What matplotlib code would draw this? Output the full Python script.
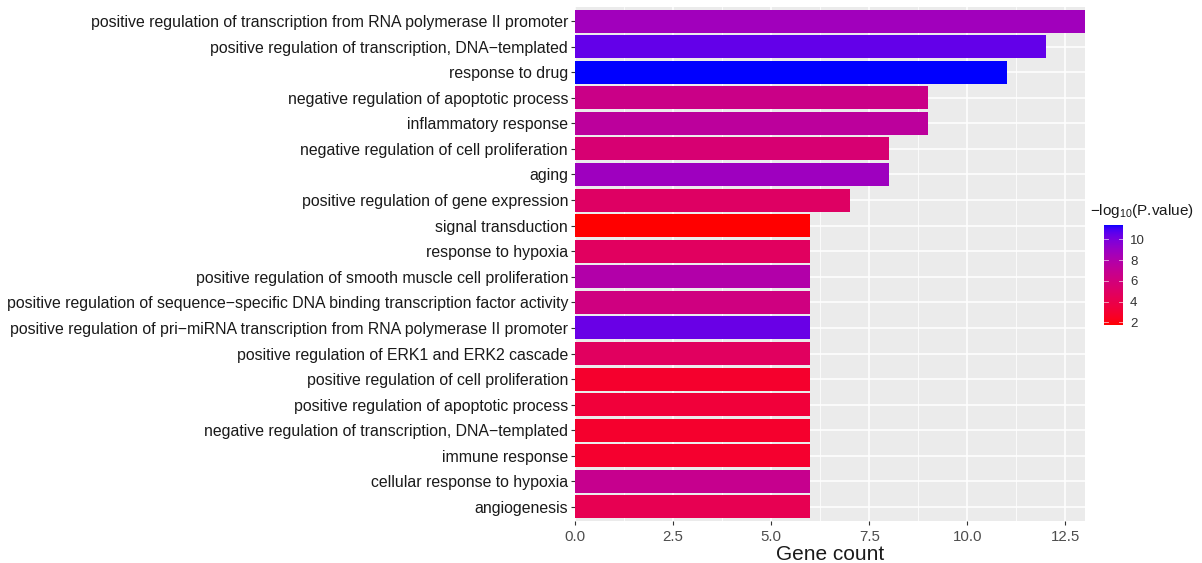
import numpy as np
import matplotlib
matplotlib.use("Agg")
import matplotlib.pyplot as plt
from matplotlib.colors import ListedColormap, Normalize

plt.rcParams['font.family'] = ['Liberation Sans', 'DejaVu Sans']
plt.rcParams['mathtext.default'] = 'regular'

# -----------------------------
# DATA (top to bottom)
# -----------------------------
terms = [
    "positive regulation of transcription from RNA polymerase II promoter",
    "positive regulation of transcription, DNA\u2212templated",
    "response to drug",
    "negative regulation of apoptotic process",
    "inflammatory response",
    "negative regulation of cell proliferation",
    "aging",
    "positive regulation of gene expression",
    "signal transduction",
    "response to hypoxia",
    "positive regulation of smooth muscle cell proliferation",
    "positive regulation of sequence\u2212specific DNA binding transcription factor activity",
    "positive regulation of pri\u2212miRNA transcription from RNA polymerase II promoter",
    "positive regulation of ERK1 and ERK2 cascade",
    "positive regulation of cell proliferation",
    "positive regulation of apoptotic process",
    "negative regulation of transcription, DNA\u2212templated",
    "immune response",
    "cellular response to hypoxia",
    "angiogenesis",
]
counts = [13, 12, 11, 9, 9, 8, 8, 7, 6, 6, 6, 6, 6, 6, 6, 6, 6, 6, 6, 6]
neglogp = [8.7, 10.5, 11.4, 6.5, 7.4, 5.6, 8.8, 5.0, 1.74, 4.8,
           7.9, 6.2, 10.4, 4.8, 2.8, 3.3, 2.8, 2.9, 6.8, 4.3]

# -----------------------------
# RED -> BLUE GRADIENT (Lab interpolation like ggplot)
# -----------------------------
def srgb_to_lab(rgb):
    c = np.where(rgb > 0.04045, ((rgb + 0.055) / 1.055) ** 2.4, rgb / 12.92)
    M = np.array([[0.4124, 0.3576, 0.1805],
                  [0.2126, 0.7152, 0.0722],
                  [0.0193, 0.1192, 0.9505]])
    xyz = M @ c / np.array([0.95047, 1.0, 1.08883])
    f = np.where(xyz > 0.008856, np.cbrt(xyz), 7.787 * xyz + 16 / 116)
    return np.array([116 * f[1] - 16, 500 * (f[0] - f[1]), 200 * (f[1] - f[2])])

def lab_to_srgb(lab):
    fy = (lab[0] + 16) / 116
    fx = fy + lab[1] / 500
    fz = fy - lab[2] / 200
    f = np.array([fx, fy, fz])
    xyz = np.where(f ** 3 > 0.008856, f ** 3, (f - 16 / 116) / 7.787)
    xyz = xyz * np.array([0.95047, 1.0, 1.08883])
    Minv = np.array([[3.2406, -1.5372, -0.4986],
                     [-0.9689, 1.8758, 0.0415],
                     [0.0557, -0.2040, 1.0570]])
    c = Minv @ xyz
    c = np.where(c > 0.0031308, 1.055 * np.clip(c, 0, None) ** (1 / 2.4) - 0.055, 12.92 * c)
    return np.clip(c, 0, 1)

lab_lo = srgb_to_lab(np.array([1.0, 0.0, 0.0]))
lab_hi = srgb_to_lab(np.array([0.0, 0.0, 1.0]))
cmap = ListedColormap([lab_to_srgb(lab_lo + t * (lab_hi - lab_lo)) for t in np.linspace(0, 1, 256)])
norm = Normalize(vmin=min(neglogp), vmax=max(neglogp))

# -----------------------------
# PLOT
# -----------------------------
fig = plt.figure(figsize=(12.02, 5.63), dpi=100)
ax = fig.add_axes([575 / 1202, 1 - 521 / 563, 510 / 1202, 514 / 563])
ax.set_facecolor('#EBEBEB')

y = np.arange(len(terms))[::-1]
ax.barh(y, counts, height=0.9, color=cmap(norm(np.array(neglogp))), zorder=3)

ax.set_xlim(0, 13)
ax.set_ylim(-0.55, len(terms) - 0.45)
ax.set_xticks([0, 2.5, 5, 7.5, 10, 12.5])
ax.set_xticklabels(['0.0', '2.5', '5.0', '7.5', '10.0', '12.5'])
ax.set_xticks(np.arange(1.25, 13, 2.5), minor=True)
ax.set_yticks(y)
ax.set_yticklabels(terms, fontsize=11.4, color='#1a1a1a')
ax.tick_params(axis='x', labelsize=10.8, labelcolor='#4D4D4D', color='#333333', length=3, width=0.8)
ax.tick_params(axis='y', color='#333333', length=3, width=0.8, pad=2)
ax.tick_params(axis='x', which='minor', length=0)
ax.grid(which='major', color='white', linewidth=1.1, zorder=0)
ax.grid(which='minor', axis='x', color='white', linewidth=0.55, zorder=0)
ax.set_axisbelow(True)
for s in ax.spines.values():
    s.set_visible(False)
ax.set_xlabel('Gene count', fontsize=15, color='#1a1a1a', labelpad=1)

# colorbar legend
cax = fig.add_axes([1104 / 1202, 1 - 325 / 563, 19 / 1202, 100 / 563])
sm = plt.cm.ScalarMappable(cmap=cmap, norm=norm)
cb = fig.colorbar(sm, cax=cax)
cb.outline.set_visible(False)
cb.set_ticks([2, 4, 6, 8, 10])
cax.tick_params(labelsize=9.5, labelcolor='#333333', length=0, pad=5)
for v in [2, 4, 6, 8, 10]:
    cax.plot([0, 0.2], [v, v], color='white', lw=0.6, alpha=0.7, transform=cax.get_yaxis_transform())
    cax.plot([0.8, 1.0], [v, v], color='white', lw=0.6, alpha=0.7, transform=cax.get_yaxis_transform())
fig.text(1090 / 1202, 1 - 211 / 563, r'$-$log$_{10}$(P.value)', fontsize=11,
         color='#1a1a1a', va='center', ha='left')

fig.savefig('out.png', dpi=100)
